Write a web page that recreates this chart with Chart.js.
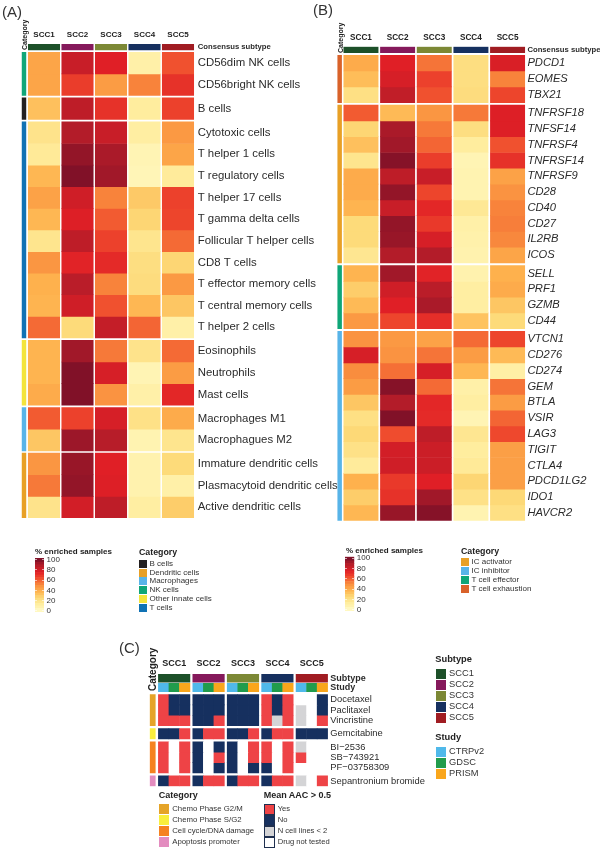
<!DOCTYPE html>
<html lang="en">
<head>
  <meta charset="UTF-8" />
  <title>Consensus subtypes heatmaps</title>
  <script src="https://cdn.jsdelivr.net/npm/chart.js"></script>
  <style>
    body { margin: 0; background: #fff; font-family: "Liberation Sans", Arial, sans-serif; color: #333; }
    #page { position: relative; width: 600px; height: 853px; overflow: hidden; }
    canvas { position: absolute; left: 0; top: 0; }
    .txt { position: absolute; white-space: nowrap; line-height: 1; transform: translateY(-50%); }
    .vert { position: absolute; white-space: nowrap; line-height: 1; font-weight: bold; transform-origin: 0 0; transform: rotate(-90deg); }
    .sw { position: absolute; box-sizing: border-box; }
  </style>
</head>
<body>
  <div id="page">
    <canvas id="chartA" width="600" height="853"></canvas>
    <canvas id="chartB" width="600" height="853"></canvas>
    <canvas id="chartC" width="600" height="853"></canvas>
    <canvas id="barA" width="600" height="853"></canvas>
    <canvas id="barB" width="600" height="853"></canvas>
  </div>

  <script>
    const subtypes = ["SCC1", "SCC2", "SCC3", "SCC4", "SCC5"];
    const subtypeColors = ["#1d5029", "#85195b", "#7c8835", "#16305f", "#a01c22"];
    const studies = ["CTRPv2", "GDSC", "PRISM"];
    const studyColors = ["#50b9ea", "#219c4c", "#f9a61c"];

    // panel A
    const rowsA = ["CD56dim NK cells", "CD56bright NK cells", "B cells", "Cytotoxic cells", "T helper 1 cells",
      "T regulatory cells", "T helper 17 cells", "T gamma delta cells", "Follicular T helper cells", "CD8 T cells",
      "T effector memory cells", "T central memory cells", "T helper 2 cells", "Eosinophils", "Neutrophils",
      "Mast cells", "Macrophages M1", "Macrophagues M2", "Immature dendritic cells", "Plasmacytoid dendritic cells",
      "Active dendritic cells"];
    const valuesA = [
      [42, 82, 75, 10, 62], [42, 67, 45, 52, 70], [33, 85, 70, 13, 66], [19, 88, 82, 12, 46], [15, 95, 90, 6, 42],
      [36, 99, 92, 5, 14], [43, 80, 52, 30, 66], [36, 76, 60, 26, 65], [18, 85, 66, 18, 57], [47, 74, 72, 22, 26],
      [38, 86, 52, 23, 46], [37, 80, 62, 36, 31], [57, 24, 83, 58, 10], [37, 92, 54, 19, 57], [37, 99, 78, 6, 45],
      [40, 99, 48, 10, 73], [60, 66, 78, 20, 40], [31, 93, 87, 7, 18], [47, 94, 75, 8, 24], [54, 95, 76, 8, 10],
      [19, 79, 85, 12, 29]];
    const groupSizesA = [2, 1, 10, 3, 2, 3];
    const groupColorsA = ["#0fa678", "#231f20", "#1072b4", "#f3e43c", "#58b4e8", "#e8a026"];
    const legendA = ["B cells", "Dendritic cells", "Macrophages", "NK cells", "Other innate cells", "T cells"];
    const legendColorsA = ["#231f20", "#e8a026", "#58b4e8", "#0fa678", "#f3e43c", "#1072b4"];

    // panel B
    const rowsB = ["PDCD1", "EOMES", "TBX21", "TNFRSF18", "TNFSF14", "TNFRSF4", "TNFRSF14", "TNFRSF9", "CD28", "CD40",
      "CD27", "IL2RB", "ICOS", "SELL", "PRF1", "GZMB", "CD44", "VTCN1", "CD276", "CD274", "GEM", "BTLA", "VSIR",
      "LAG3", "TIGIT", "CTLA4", "PDCD1LG2", "IDO1", "HAVCR2"];
    const valuesB = [
      [40, 75, 55, 22, 77], [34, 78, 66, 22, 52], [21, 84, 62, 23, 65], [60, 35, 47, 54, 76], [26, 90, 54, 22, 76],
      [33, 92, 58, 13, 62], [18, 98, 67, 6, 70], [40, 85, 82, 7, 43], [40, 95, 65, 7, 48], [37, 82, 73, 16, 52],
      [24, 95, 68, 10, 53], [24, 94, 78, 9, 51], [17, 88, 88, 8, 42], [37, 92, 74, 8, 38], [29, 80, 86, 12, 40],
      [35, 75, 90, 12, 31], [46, 65, 71, 32, 24], [48, 46, 43, 57, 65], [78, 48, 55, 45, 35], [50, 56, 78, 36, 11],
      [45, 98, 57, 10, 55], [31, 88, 73, 12, 45], [21, 99, 72, 6, 58], [25, 63, 85, 17, 64], [20, 79, 81, 13, 44],
      [14, 80, 81, 15, 44], [38, 68, 75, 26, 44], [29, 70, 92, 20, 25], [36, 94, 98, 7, 21]];
    const groupSizesB = [3, 10, 4, 12];
    const groupColorsB = ["#d9622a", "#e8a026", "#0fa678", "#58b4e8"];
    const legendB = ["IC activator", "IC inhibitor", "T  cell effector", "T  cell exhaustion"];
    const legendColorsB = ["#e8a026", "#58b4e8", "#0fa678", "#d9622a"];

    // panel C, Y = yes, N = no, G = N cell lines < 2, W = drug not tested
    const rowsC = ["Docetaxel", "Paclitaxel", "Vincristine", "Gemcitabine", "BI\u22122536", "SB\u2212743921",
      "PF\u221203758309", "Sepantronium bromide"];
    const statusC = [
      ["Y","N","N", "N","N","N", "N","N","N", "Y","N","Y", "W","W","N"],
      ["Y","N","N", "N","N","N", "N","N","N", "Y","N","Y", "G","W","N"],
      ["Y","Y","Y", "N","N","Y", "N","N","N", "Y","G","Y", "G","W","Y"],
      ["N","N","Y", "N","Y","Y", "N","N","Y", "N","Y","Y", "N","N","N"],
      ["Y","W","Y", "N","W","N", "N","W","Y", "Y","W","Y", "G","W","W"],
      ["Y","W","Y", "N","W","Y", "N","W","Y", "Y","W","Y", "Y","W","W"],
      ["Y","W","Y", "N","W","N", "N","W","N", "N","W","Y", "W","W","W"],
      ["N","Y","Y", "N","Y","Y", "N","Y","Y", "N","Y","Y", "G","W","Y"]];
    const statusColors = { Y: "#ee4346", N: "#16305f", G: "#d4d4d6", W: "#ffffff" };
    const groupSizesC = [3, 1, 3, 1];
    const groupColorsC = ["#e5a428", "#f9ee3c", "#f58220", "#e38cbf"];
    const legendC = ["Chemo Phase G2/M", "Chemo Phase S/G2", "Cell cycle/DNA damage", "Apoptosis promoter"];
    const aacLabels = ["Yes", "No", "N cell lines < 2", "Drug not tested"];
    const aacKeys = ["Y", "N", "G", "W"];

    const colorbarEdges = [-2, 5, 10, 15, 20, 25, 30, 35, 40, 45, 50, 55, 60, 65, 70, 75, 80, 85, 90, 95, 103];
    const colorbarTicks = [0, 20, 40, 60, 80, 100];
    const palette = ["#fff9c6", "#ffeea0", "#fdd977", "#feb24e", "#f98d3e", "#f04e2e", "#e01f26", "#b51d29", "#7d1028"];

    const FONT = '"Liberation Sans", Arial, sans-serif';

    function heatColor(v) {
      const t = Math.max(0, Math.min(v, 100)) / 12.5;
      const i = Math.min(Math.floor(t), palette.length - 2);
      const a = parseInt(palette[i].slice(1), 16), b = parseInt(palette[i + 1].slice(1), 16);
      const mix = s => Math.round(((a >> s) & 255) + (((b >> s) & 255) - ((a >> s) & 255)) * (t - i));
      return `rgb(${mix(16)},${mix(8)},${mix(0)})`;
    }

    function cells(xs, y0, y1, colors, thick) {
      return {
        data: xs.map(x => ({ x: x, y: [y0, y1] })),
        backgroundColor: colors,
        barThickness: thick,
        inflateAmount: 0.33,
        stack: "cells"
      };
    }

    // one heatmap: strips on top, then groups of rows with a category bar on the left
    function heatmap(id, p) {
      const datasets = [], yTicks = [];
      let y = 0, row = 0;
      p.headers.forEach(h => {
        datasets.push(cells(h.xs, y, y + h.size, h.colors, h.thick));
        yTicks.push({ value: y + h.size / 2, label: h.label, font: p.headFont });
        y += h.size + h.gap;
      });
      p.groupSizes.forEach((n, g) => {
        datasets.push(cells([p.catX], y, y + n, [p.groupColors[g]], p.catThick));
        for (let i = 0; i < n; i++) {
          datasets.push(cells(p.xs, y, y + 1, p.rowColors[row], p.thick));
          yTicks.push({ value: y + 0.5, label: p.rows[row], font: p.rowFont });
          y += 1;
          row++;
        }
        y += p.groupGap;
      });

      return new Chart(document.getElementById(id), {
        type: "bar",
        data: { datasets: datasets },
        options: {
          responsive: false,
          animation: false,
          barPercentage: 1,
          categoryPercentage: 1,
          layout: { padding: { left: p.left, right: 0, top: p.top - 30, bottom: 853 - p.bottom } },
          plugins: { legend: { display: false }, tooltip: { enabled: false } },
          scales: {
            x: {
              type: "linear", position: "top", stacked: true, offset: false, min: p.xMin, max: p.xMax,
              grid: { display: false, drawTicks: false }, border: { display: false },
              afterFit: s => { s.height = 30; },
              afterBuildTicks: s => { s.ticks = p.tickXs.map(v => ({ value: v })); },
              ticks: {
                autoSkip: false, maxRotation: 0, minRotation: 0, padding: p.xPad, color: "#222", font: p.xFont,
                callback: (v, i) => subtypes[i]
              }
            },
            y: {
              type: "linear", position: "right", stacked: false, reverse: true, min: 0, max: y - p.groupGap,
              grid: { display: false, drawTicks: false }, border: { display: false },
              afterFit: s => { s.width = 600 - p.right; },
              afterBuildTicks: s => { s.ticks = yTicks.map(t => ({ value: t.value })); },
              ticks: {
                autoSkip: false, padding: p.yPad, color: "#2b2b2b",
                font: ctx => yTicks[ctx.index] ? yTicks[ctx.index].font : p.rowFont,
                callback: (v, i) => yTicks[i].label
              }
            }
          }
        }
      });
    }

    function colorbar(id, left, right, top, bottom) {
      const datasets = [];
      for (let i = 0; i < colorbarEdges.length - 1; i++) {
        const mid = (colorbarEdges[i] + colorbarEdges[i + 1]) / 2;
        datasets.push(cells([0.5], colorbarEdges[i], colorbarEdges[i + 1], [heatColor(mid)], right - left));
      }
      new Chart(document.getElementById(id), {
        type: "bar",
        data: { datasets: datasets },
        options: {
          responsive: false,
          animation: false,
          barPercentage: 1,
          categoryPercentage: 1,
          layout: { padding: { left: left, right: 0, top: top, bottom: 853 - bottom } },
          plugins: { legend: { display: false }, tooltip: { enabled: false } },
          scales: {
            x: { type: "linear", stacked: true, offset: false, min: 0, max: 1, display: false },
            y: {
              position: "right", stacked: false, min: colorbarEdges[0], max: colorbarEdges[colorbarEdges.length - 1],
              grid: { color: "#fff", lineWidth: 0.6, drawTicks: false, z: 1 },
              border: { display: false, dash: [2, 5, 2] },
              afterFit: s => { s.width = 600 - right; },
              afterBuildTicks: s => { s.ticks = colorbarTicks.map(v => ({ value: v })); },
              ticks: { autoSkip: false, padding: 2.5, color: "#333", font: { family: FONT, size: 8 } }
            }
          }
        }
      });
    }

    const bold = size => ({ family: FONT, size: size, weight: "bold" });
    const heatRows = vals => vals.map(r => r.map(heatColor));

    const xsAB = [1, 2, 3, 4, 5];
    heatmap("chartA", {
      left: 20.55, right: 194.75, top: 44, bottom: 518, xMin: 0.3, xMax: 5.5,
      xs: xsAB, tickXs: xsAB, thick: 31.4, catX: 0.403, catThick: 3.8,
      headers: [{ label: "Consensus subtype", xs: xsAB, colors: subtypeColors, thick: 31.4, size: 0.275, gap: 0.11 }],
      groupSizes: groupSizesA, groupColors: groupColorsA, groupGap: 0.11,
      rows: rowsA, rowColors: heatRows(valuesA),
      xFont: bold(8), headFont: bold(7.7), rowFont: { family: FONT, size: 11.4 }, xPad: 4.5, yPad: 3
    });
    heatmap("chartB", {
      left: 335.3, right: 525.9, top: 46.7, bottom: 520.7, xMin: 0.3, xMax: 5.5,
      xs: xsAB, tickXs: xsAB, thick: 34.3, catX: 0.419, catThick: 3.8,
      headers: [{ label: "Consensus subtype", xs: xsAB, colors: subtypeColors, thick: 34.3, size: 0.38, gap: 0.16 }],
      groupSizes: groupSizesB, groupColors: groupColorsB, groupGap: 0.16,
      rows: rowsB, rowColors: heatRows(valuesB),
      xFont: bold(8.2), headFont: bold(7.7), rowFont: { family: FONT, size: 11.2, style: "italic" }, xPad: 4.5, yPad: 1.5
    });

    // panel C has three study cells inside each subtype block
    const blockStep = 3.26;
    const blockXs = subtypes.map((s, k) => k * blockStep + 1);
    const cellXs = subtypes.flatMap((s, k) => studies.map((d, j) => k * blockStep + j));
    heatmap("chartC", {
      left: 147.76, right: 328.3, top: 674, bottom: 786.3, xMin: -1.5, xMax: 15.6,
      xs: cellXs, tickXs: blockXs, thick: 10.4, catX: -1.03, catThick: 5.1,
      headers: [
        { label: "Subtype", xs: blockXs, colors: subtypeColors, thick: 31.5, size: 0.79, gap: 0.12 },
        { label: "Study", xs: cellXs, colors: subtypes.flatMap(() => studyColors), thick: 10.4, size: 0.79, gap: 0.27 }
      ],
      groupSizes: groupSizesC, groupColors: groupColorsC, groupGap: 0.28,
      rows: rowsC, rowColors: statusC.map(r => r.map(s => statusColors[s])),
      xFont: bold(9), headFont: bold(9), rowFont: { family: FONT, size: 9.35 }, xPad: 5, yPad: 2
    });

    colorbar("barA", 35, 44, 558, 612);
    colorbar("barB", 345, 354.3, 556.7, 611);

    // titles and legends
    const page = document.getElementById("page");
    function addText(x, y, text, size, weight, color) {
      const d = document.createElement("div");
      d.className = "txt";
      d.textContent = text;
      d.style.cssText = `left:${x}px;top:${y}px;font-size:${size}px;font-weight:${weight || "normal"};color:${color || "#333"}`;
      page.appendChild(d);
    }
    function addVertical(x, yBottom, text, size) {
      const d = document.createElement("div");
      d.className = "vert";
      d.textContent = text;
      d.style.cssText = `left:${x}px;top:${yBottom}px;font-size:${size}px;color:#222`;
      page.appendChild(d);
    }
    function addSwatch(x, y, w, h, color, border) {
      const d = document.createElement("div");
      d.className = "sw";
      d.style.cssText = `left:${x}px;top:${y}px;width:${w}px;height:${h}px;background:${color};border:${border || "none"}`;
      page.appendChild(d);
    }
    function addLegend(x, yTop, labels, colors, size, step, textSize, gap, border) {
      labels.forEach((l, i) => {
        addSwatch(x, yTop + i * step, size, size, colors[i], border);
        addText(x + size + gap, yTop + i * step + size / 2, l, textSize, "normal", "#333");
      });
    }

    addText(2, 11, "(A)", 15);
    addText(313, 9, "(B)", 15);
    addText(119, 647, "(C)", 15);

    addVertical(21, 50, "Category", 7);
    addVertical(337, 52.5, "Category", 7);
    addVertical(147.5, 691, "Category", 10);

    addText(35, 551.7, "% enriched samples", 8, "bold", "#222");
    addText(139, 552, "Category", 8.8, "bold", "#222");
    addLegend(139, 559.7, legendA, legendColorsA, 8, 8.8, 8, 2.5);

    addText(346, 550.5, "% enriched samples", 8, "bold", "#222");
    addText(461, 551, "Category", 8.8, "bold", "#222");
    addLegend(461, 558.3, legendB, legendColorsB, 8, 8.8, 8, 2.5);

    addText(158.7, 795.3, "Category", 9, "bold", "#222");
    addLegend(158.7, 804, legendC, groupColorsC, 10, 11, 7.8, 3.5);
    addText(263.7, 795.3, "Mean AAC > 0.5", 9, "bold", "#222");
    addLegend(264, 804, aacLabels, aacKeys.map(k => statusColors[k]), 10.5, 11, 7.6, 3.2, "0.7px solid #1f2f4f");

    addText(435.3, 660, "Subtype", 9.3, "bold", "#222");
    addLegend(435.5, 669.3, subtypes, subtypeColors, 10, 11, 9.3, 3.5);
    addText(435.3, 738.3, "Study", 9.3, "bold", "#222");
    addLegend(435.5, 747.3, studies, studyColors, 10, 11, 9.3, 3.5);
  </script>
</body>
</html>
